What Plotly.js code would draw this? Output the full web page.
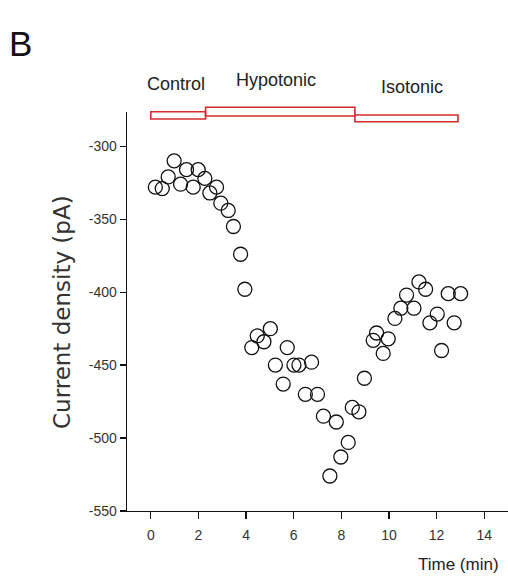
<!DOCTYPE html>
<html>
<head>
<meta charset="utf-8">
<script src="https://cdn.plot.ly/plotly-3.0.1.min.js"></script>
<style>
  html, body { margin: 0; padding: 0; background: #fff; }
  #chart { width: 508px; height: 585px; }
</style>
</head>
<body>
<div id="chart"></div>
<script>
// ---- data ----
const time = [0.19, 0.48, 0.73, 0.98, 1.25, 1.50, 1.78, 1.99, 2.27, 2.48,
              2.76, 2.94, 3.25, 3.47, 3.77, 3.95, 4.24, 4.47, 4.75, 5.02,
              5.23, 5.56, 5.73, 6.01, 6.22, 6.49, 6.75, 7.00, 7.25, 7.52,
              7.79, 7.98, 8.29, 8.46, 8.74, 8.97, 9.34, 9.48, 9.76, 9.97,
              10.25, 10.50, 10.74, 11.05, 11.26, 11.54, 11.72, 12.03, 12.21, 12.49,
              12.74, 13.01];
const currentDensity = [-328, -329, -321, -310, -326, -316, -328, -316, -322, -332,
                        -328, -339, -344, -355, -374, -398, -438, -430, -434, -425,
                        -450, -463, -438, -450, -450, -470, -448, -470, -485, -526,
                        -489, -513, -503, -479, -482, -459, -433, -428, -442, -432,
                        -418, -411, -402, -411, -393, -398, -421, -415, -440, -401,
                        -421, -401];
const phases = ['Control', 'Hypotonic', 'Isotonic'];
const phaseStart = [0, 2.3, 8.57];
const phaseEnd = [2.3, 8.57, 12.9];
const xTickVals = [0, 2, 4, 6, 8, 10, 12, 14];
const xTickText = ['0', '2', '4', '6', '8', '10', '12', '14'];
const yTickVals = [-550, -500, -450, -400, -350, -300];
const yTickText = ['-550', '-500', '-450', '-400', '-350', '-300'];

// ---- layout geometry (pixels) ----
const W = 508, H = 585;
const ML = 127, MR = 0, MT = 100, MB = 74;
const plotW = W - ML - MR, plotH = H - MT - MB;
const px = v => (v - ML) / plotW;          // pixel x -> paper x
const py = v => (H - MB - v) / plotH;      // pixel y -> paper y

const sans = '"Liberation Sans", Arial, sans-serif';

// phase bars: vertical extent (pixels) per phase
const barTopPx = [111.7, 107.3, 115.0];
const barBotPx = [119.0, 116.0, 121.7];
const labelYPx = [84, 80, 87];
const labelShift = [-2, -4, 6];

const shapes = phases.map((p, i) => ({
  type: 'rect', xref: 'x', yref: 'paper',
  x0: phaseStart[i], x1: phaseEnd[i],
  y0: py(barBotPx[i]), y1: py(barTopPx[i]),
  line: { color: '#d42b2b', width: 1.6 },
  fillcolor: 'rgba(255,255,255,0)',
  layer: 'above'
}));

const annotations = phases.map((p, i) => ({
  text: p, xref: 'x', yref: 'paper',
  x: (phaseStart[i] + phaseEnd[i]) / 2, xshift: labelShift[i],
  y: py(labelYPx[i]), xanchor: 'center', yanchor: 'middle',
  showarrow: false,
  font: { family: sans, size: 18, color: '#222' }
}));

annotations.push({
  text: 'B', xref: 'paper', yref: 'paper',
  x: px(21), y: py(43), xanchor: 'center', yanchor: 'middle',
  showarrow: false, font: { family: sans, size: 35, color: '#111' }
});
annotations.push({
  text: 'Current density (pA)', xref: 'paper', yref: 'paper',
  x: px(62), y: py(312), xanchor: 'center', yanchor: 'middle',
  textangle: -90, showarrow: false,
  font: { family: '"DejaVu Sans", sans-serif', size: 23, color: '#333' }
});
annotations.push({
  text: 'Time (min)', xref: 'paper', yref: 'paper',
  x: px(501), y: py(564), xanchor: 'right', yanchor: 'middle',
  showarrow: false, font: { family: sans, size: 17, color: '#222' }
});

const trace = {
  x: time, y: currentDensity,
  type: 'scatter', mode: 'markers',
  marker: { symbol: 'circle-open', size: 14, color: '#111', line: { color: '#111', width: 1.3 } },
  cliponaxis: false,
  hoverinfo: 'x+y'
};

const layout = {
  width: W, height: H,
  margin: { l: ML, r: MR, t: MT, b: MB, pad: 0 },
  paper_bgcolor: '#ffffff', plot_bgcolor: 'rgba(0,0,0,0)',
  showlegend: false,
  xaxis: {
    range: [-1, 15], tickvals: xTickVals, ticktext: xTickText,
    showgrid: false, zeroline: false, showline: true, linecolor: '#111', linewidth: 1.3,
    ticks: 'outside', ticklen: 7, tickwidth: 1.3, tickcolor: '#111',
    ticklabelstandoff: 4,
    tickfont: { family: sans, size: 14, color: '#333' },
    fixedrange: true
  },
  yaxis: {
    range: [-550, -276.5], domain: [0, py(112)],
    tickvals: yTickVals, ticktext: yTickText,
    showgrid: false, zeroline: false, showline: true, linecolor: '#111', linewidth: 1.3,
    ticks: 'outside', ticklen: 6, tickwidth: 1.3, tickcolor: '#111',
    tickfont: { family: sans, size: 14, color: '#333' },
    fixedrange: true
  },
  shapes: shapes,
  annotations: annotations
};

Plotly.newPlot('chart', [trace], layout, { displayModeBar: false, staticPlot: true });
</script>
</body>
</html>
